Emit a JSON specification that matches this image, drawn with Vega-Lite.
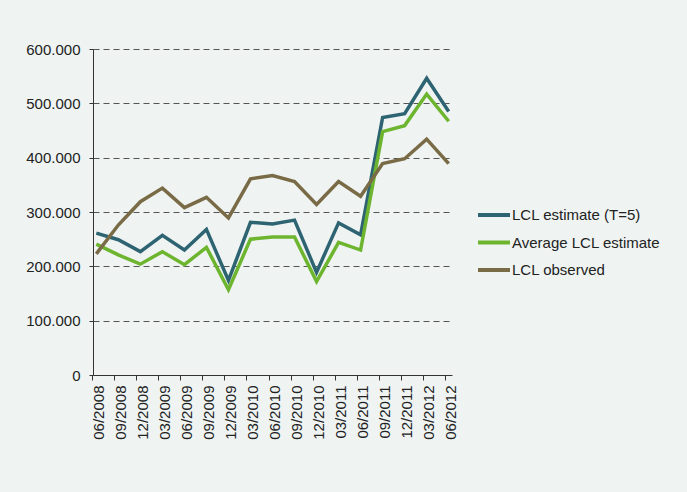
{
  "$schema": "https://vega.github.io/schema/vega-lite/v6.json",
  "width": 359,
  "height": 326,
  "autosize": {"type": "none"},
  "padding": {"left": 93, "top": 49, "right": 235, "bottom": 117},
  "background": "#eff4f3",
  "config": {
    "view": {"stroke": null},
    "font": "Liberation Sans"
  },
  "data": {
    "values": [
      {"q": "06/2008", "s": "LCL estimate (T=5)", "v": 261000},
      {"q": "09/2008", "s": "LCL estimate (T=5)", "v": 249000},
      {"q": "12/2008", "s": "LCL estimate (T=5)", "v": 227000},
      {"q": "03/2009", "s": "LCL estimate (T=5)", "v": 257000},
      {"q": "06/2009", "s": "LCL estimate (T=5)", "v": 230000},
      {"q": "09/2009", "s": "LCL estimate (T=5)", "v": 268000},
      {"q": "12/2009", "s": "LCL estimate (T=5)", "v": 174000},
      {"q": "03/2010", "s": "LCL estimate (T=5)", "v": 281000},
      {"q": "06/2010", "s": "LCL estimate (T=5)", "v": 278000},
      {"q": "09/2010", "s": "LCL estimate (T=5)", "v": 285000},
      {"q": "12/2010", "s": "LCL estimate (T=5)", "v": 189000},
      {"q": "03/2011", "s": "LCL estimate (T=5)", "v": 280000},
      {"q": "06/2011", "s": "LCL estimate (T=5)", "v": 258000},
      {"q": "09/2011", "s": "LCL estimate (T=5)", "v": 474000},
      {"q": "12/2011", "s": "LCL estimate (T=5)", "v": 481000},
      {"q": "03/2012", "s": "LCL estimate (T=5)", "v": 546000},
      {"q": "06/2012", "s": "LCL estimate (T=5)", "v": 485000},
      {"q": "06/2008", "s": "Average LCL estimate", "v": 241000},
      {"q": "09/2008", "s": "Average LCL estimate", "v": 221000},
      {"q": "12/2008", "s": "Average LCL estimate", "v": 204000},
      {"q": "03/2009", "s": "Average LCL estimate", "v": 227000},
      {"q": "06/2009", "s": "Average LCL estimate", "v": 203000},
      {"q": "09/2009", "s": "Average LCL estimate", "v": 235000},
      {"q": "12/2009", "s": "Average LCL estimate", "v": 157000},
      {"q": "03/2010", "s": "Average LCL estimate", "v": 250000},
      {"q": "06/2010", "s": "Average LCL estimate", "v": 254000},
      {"q": "09/2010", "s": "Average LCL estimate", "v": 254000},
      {"q": "12/2010", "s": "Average LCL estimate", "v": 172000},
      {"q": "03/2011", "s": "Average LCL estimate", "v": 244000},
      {"q": "06/2011", "s": "Average LCL estimate", "v": 230000},
      {"q": "09/2011", "s": "Average LCL estimate", "v": 448000},
      {"q": "12/2011", "s": "Average LCL estimate", "v": 459000},
      {"q": "03/2012", "s": "Average LCL estimate", "v": 517000},
      {"q": "06/2012", "s": "Average LCL estimate", "v": 467000},
      {"q": "06/2008", "s": "LCL observed", "v": 223000},
      {"q": "09/2008", "s": "LCL observed", "v": 276000},
      {"q": "12/2008", "s": "LCL observed", "v": 319000},
      {"q": "03/2009", "s": "LCL observed", "v": 344000},
      {"q": "06/2009", "s": "LCL observed", "v": 308000},
      {"q": "09/2009", "s": "LCL observed", "v": 327000},
      {"q": "12/2009", "s": "LCL observed", "v": 289000},
      {"q": "03/2010", "s": "LCL observed", "v": 361000},
      {"q": "06/2010", "s": "LCL observed", "v": 367000},
      {"q": "09/2010", "s": "LCL observed", "v": 356000},
      {"q": "12/2010", "s": "LCL observed", "v": 314000},
      {"q": "03/2011", "s": "LCL observed", "v": 356000},
      {"q": "06/2011", "s": "LCL observed", "v": 329000},
      {"q": "09/2011", "s": "LCL observed", "v": 389000},
      {"q": "12/2011", "s": "LCL observed", "v": 398000},
      {"q": "03/2012", "s": "LCL observed", "v": 434000},
      {"q": "06/2012", "s": "LCL observed", "v": 389000}
    ]
  },
  "mark": {"type": "line", "strokeWidth": 3.5, "strokeJoin": "miter"},
  "encoding": {
    "x": {
      "field": "q",
      "type": "ordinal",
      "sort": null,
      "scale": {"type": "point", "padding": 0.15},
      "axis": {
        "title": null,
        "labelAngle": -90,
        "labelFontSize": 15,
        "labelColor": "#222222",
        "labelPadding": 5,
        "tickSize": 5,
        "tickColor": "#333333",
        "domainColor": "#333333",
        "tickOffset": -4,
        "labelOffset": 6,
        "grid": false
      }
    },
    "y": {
      "field": "v",
      "type": "quantitative",
      "scale": {"domain": [0, 600000], "nice": false},
      "axis": {
        "title": null,
        "values": [0, 100000, 200000, 300000, 400000, 500000, 600000],
        "labelExpr": "replace(format(datum.value, ','), ',', '.')",
        "labelFontSize": 15,
        "labelColor": "#222222",
        "labelPadding": 9,
        "tickSize": 4,
        "tickColor": "#333333",
        "domainColor": "#333333",
        "grid": true,
        "gridColor": "#555555",
        "gridDash": [6, 4],
        "gridWidth": 1
      }
    },
    "color": {
      "field": "s",
      "type": "nominal",
      "sort": ["LCL estimate (T=5)", "Average LCL estimate", "LCL observed"],
      "scale": {
        "domain": ["LCL estimate (T=5)", "Average LCL estimate", "LCL observed"],
        "range": ["#2e6472", "#6db52e", "#7a6b47"]
      },
      "legend": {
        "title": null,
        "orient": "none",
        "legendX": 383,
        "legendY": 148,
        "symbolType": "stroke",
        "symbolSize": 1024,
        "symbolStrokeWidth": 4,
        "labelOffset": 0,
        "labelFontSize": 15,
        "labelColor": "#222222",
        "rowPadding": 1.5
      }
    }
  }
}
